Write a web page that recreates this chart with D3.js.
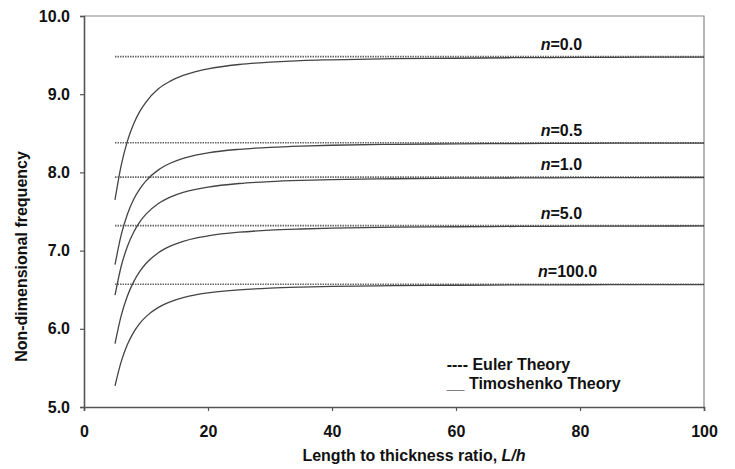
<!DOCTYPE html>
<meta charset="utf-8">
<script src="https://d3js.org/d3.v7.min.js"></script>
<style>
  body { margin: 0; background: #fff; }
  text { font-family: "Liberation Sans", Arial, sans-serif; font-weight: bold; fill: #111; }
</style>
<div id="chart"></div>
<script>
  // slenderness ratios where the curves were read
  var ratios = [5, 6, 7, 8, 9, 10, 12, 14, 16, 18, 20, 25, 30, 35, 40, 50, 60, 70, 80, 90, 100];
  var labels = ["0.0", "0.5", "1.0", "5.0", "100.0"];
  // Euler theory (independent of L/h)
  var euler = [9.48, 8.38, 7.94, 7.32, 6.57];
  // Timoshenko theory, one row per n
  var timo0 = [7.65, 8.09, 8.40, 8.62, 8.78, 8.90, 9.07, 9.17, 9.24, 9.29, 9.325, 9.38, 9.41, 9.43, 9.44, 9.455, 9.46, 9.467, 9.47, 9.473, 9.474];
  var timo05 = [6.82, 7.20, 7.465, 7.653, 7.789, 7.892, 8.032, 8.12, 8.179, 8.22, 8.25, 8.295, 8.321, 8.337, 8.347, 8.359, 8.365, 8.369, 8.372, 8.374, 8.375];
  var timo1 = [6.43, 6.80, 7.053, 7.234, 7.367, 7.466, 7.602, 7.687, 7.744, 7.784, 7.813, 7.858, 7.883, 7.898, 7.908, 7.919, 7.926, 7.929, 7.932, 7.934, 7.935];
  var timo5 = [5.81, 6.168, 6.42, 6.60, 6.734, 6.835, 6.973, 7.06, 7.119, 7.16, 7.189, 7.235, 7.261, 7.276, 7.287, 7.299, 7.305, 7.309, 7.312, 7.314, 7.315];
  var timo100 = [5.27, 5.58, 5.799, 5.955, 6.07, 6.156, 6.274, 6.348, 6.398, 6.434, 6.459, 6.498, 6.52, 6.533, 6.542, 6.552, 6.557, 6.561, 6.563, 6.565, 6.566];
  var timo = [timo0, timo05, timo1, timo5, timo100];
  // where each n label sits (x position in L/h units)
  var labelX = [77, 77, 77, 77, 78];
  var xTicks = [0, 20, 40, 60, 80, 100];
  var yTicks = [5, 6, 7, 8, 9, 10];

  var margin = { top: 16, right: 31, bottom: 62, left: 84 },
    width = 735 - margin.left - margin.right,
    height = 469 - margin.top - margin.bottom;

  var svg = d3.select("#chart")
    .append("svg")
    .attr("width", 735)
    .attr("height", 469)
    .append("g")
    .attr("transform", "translate(" + margin.left + "," + margin.top + ")");

  var x = d3.scaleLinear().domain([0, 100]).range([0, width]);
  var y = d3.scaleLinear().domain([5, 10]).range([height, 0]);

  // frame (top and right)
  svg.append("path")
    .attr("d", "M0,0H" + width + "V" + height)
    .attr("fill", "none")
    .attr("stroke", "#888")
    .attr("stroke-width", 1.2);

  var gX = svg.append("g")
    .attr("transform", "translate(0," + height + ")")
    .call(d3.axisBottom(x).tickValues(xTicks).tickSize(4).tickPadding(15).tickFormat(d3.format("d")));
  var gY = svg.append("g")
    .call(d3.axisLeft(y).tickValues(yTicks).tickSize(4).tickPadding(10).tickFormat(d3.format(".1f")));

  [gX, gY].forEach(function (g) {
    g.select(".domain").attr("stroke", "#555").attr("stroke-width", 1.6);
    g.selectAll(".tick line").attr("stroke", "#555").attr("stroke-width", 1.2);
    g.selectAll(".tick text")
      .style("font-family", "'Liberation Sans', Arial, sans-serif")
      .style("font-weight", "bold")
      .style("font-size", "16px")
      .attr("fill", "#111");
  });

  // Euler lines (dotted)
  svg.append("g").selectAll("line")
    .data(euler)
    .enter()
    .append("line")
    .attr("x1", x(5))
    .attr("x2", x(100))
    .attr("y1", function (d) { return y(d); })
    .attr("y2", function (d) { return y(d); })
    .attr("stroke", "#666")
    .attr("stroke-width", 1.6)
    .attr("stroke-dasharray", "1.5,1");

  // Timoshenko curves
  var line = d3.line()
    .x(function (d, i) { return x(ratios[i]); })
    .y(function (d) { return y(d); })
    .curve(d3.curveMonotoneX);

  svg.append("g").selectAll("path")
    .data(timo)
    .enter()
    .append("path")
    .attr("d", line)
    .attr("fill", "none")
    .attr("stroke", "#444")
    .attr("stroke-width", 1.3);

  // n labels
  var lab = svg.append("g").selectAll("text")
    .data(labels)
    .enter()
    .append("text")
    .attr("x", function (d, i) { return x(labelX[i]); })
    .attr("y", function (d, i) { return y(euler[i]) - 7; })
    .attr("text-anchor", "middle")
    .style("font-size", "16px");
  lab.append("tspan").style("font-style", "italic").text("n");
  lab.append("tspan").text(function (d) { return "=" + d; });

  // legend
  svg.append("text")
    .attr("x", x(58.5))
    .attr("y", y(5.47))
    .style("font-size", "16px")
    .text("---- Euler Theory");
  svg.append("text")
    .attr("x", x(58.5))
    .attr("y", y(5.23))
    .style("font-size", "16px")
    .text("__ Timoshenko Theory");

  // axis titles
  var xt = svg.append("text")
    .attr("x", width / 2 + 20)
    .attr("y", height + 54)
    .attr("text-anchor", "middle")
    .style("font-size", "16px")
    .text("Length to thickness ratio, ");
  xt.append("tspan").style("font-style", "italic").text("L/h");

  svg.append("text")
    .attr("transform", "translate(-57," + (height / 2 + 45) + ") rotate(-90)")
    .attr("text-anchor", "middle")
    .style("font-size", "16px")
    .text("Non-dimensional frequency");
</script>
